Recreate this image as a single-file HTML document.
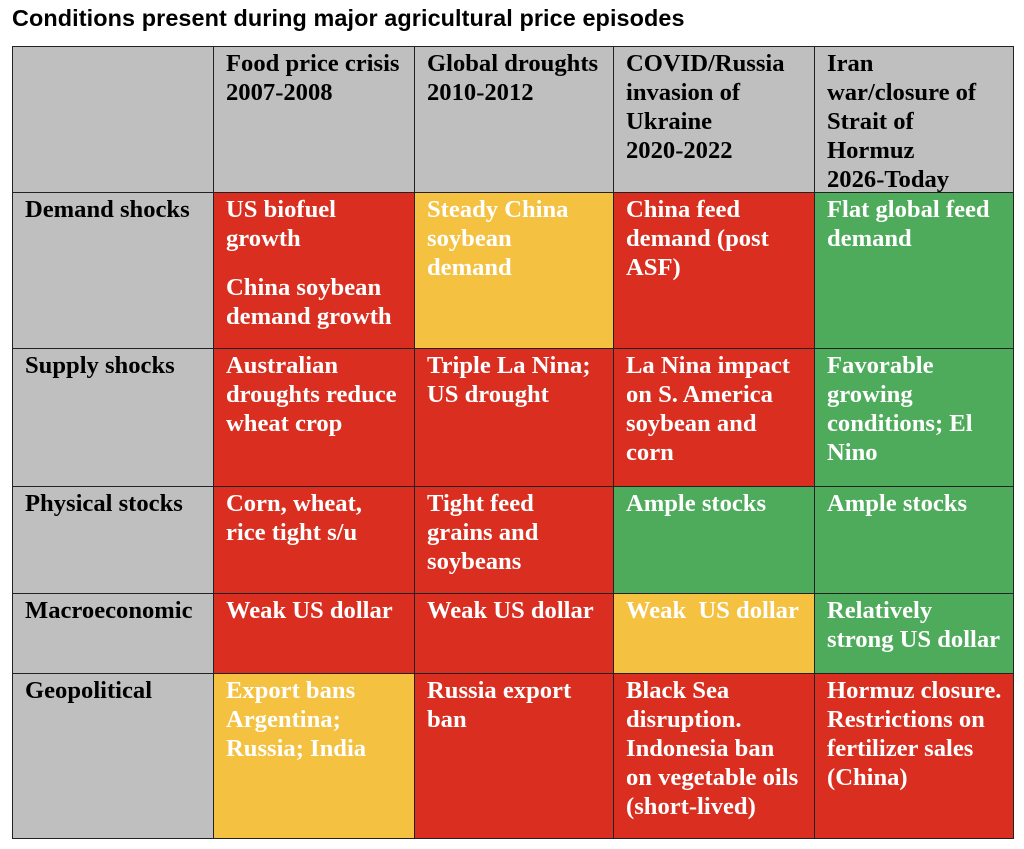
<!DOCTYPE html>
<html><head><style>
body{margin:0;width:1024px;height:849px;background:#fff;position:relative;overflow:hidden}
.t{position:absolute;left:12px;top:5px;font:bold 23.4px "Liberation Sans",sans-serif;color:#000;letter-spacing:0.1px}
.c{position:absolute;box-sizing:border-box;border:1px solid #222;padding:2px 0 0 12px;font:bold 24.6px/29px "Liberation Serif",serif;color:#fff;letter-spacing:0;white-space:nowrap}
.g{background:#bfbfbf;color:#000}.r{background:#d92e20}.y{background:#f4c141}.n{background:#4dab5b}
</style></head><body>
<div class="t">Conditions present during major agricultural price episodes</div>
<div class="c g" style="left:12px;top:46px;width:202px;height:147px"></div>
<div class="c g" style="left:213px;top:46px;width:202px;height:147px">Food price crisis<br>2007-2008</div>
<div class="c g" style="left:414px;top:46px;width:200px;height:147px">Global droughts<br>2010-2012</div>
<div class="c g" style="left:613px;top:46px;width:202px;height:147px">COVID/Russia<br>invasion of<br>Ukraine<br>2020-2022</div>
<div class="c g" style="left:814px;top:46px;width:200px;height:147px">Iran<br>war/closure of<br>Strait of<br>Hormuz<br>2026-Today</div>

<div class="c g" style="left:12px;top:192px;width:202px;height:157px">Demand shocks</div>
<div class="c r" style="left:213px;top:192px;width:202px;height:157px">US biofuel<br>growth<div style="height:20px"></div>China soybean<br>demand growth</div>
<div class="c y" style="left:414px;top:192px;width:200px;height:157px">Steady China<br>soybean<br>demand</div>
<div class="c r" style="left:613px;top:192px;width:202px;height:157px">China feed<br>demand (post<br>ASF)</div>
<div class="c n" style="left:814px;top:192px;width:200px;height:157px">Flat global feed<br>demand</div>

<div class="c g" style="left:12px;top:348px;width:202px;height:139px">Supply shocks</div>
<div class="c r" style="left:213px;top:348px;width:202px;height:139px">Australian<br>droughts reduce<br>wheat crop</div>
<div class="c r" style="left:414px;top:348px;width:200px;height:139px">Triple La Nina;<br>US drought</div>
<div class="c r" style="left:613px;top:348px;width:202px;height:139px">La Nina impact<br>on S. America<br>soybean and<br>corn</div>
<div class="c n" style="left:814px;top:348px;width:200px;height:139px">Favorable<br>growing<br>conditions; El<br>Nino</div>

<div class="c g" style="left:12px;top:486px;width:202px;height:108px">Physical stocks</div>
<div class="c r" style="left:213px;top:486px;width:202px;height:108px">Corn, wheat,<br>rice tight s/u</div>
<div class="c r" style="left:414px;top:486px;width:200px;height:108px">Tight feed<br>grains and<br>soybeans</div>
<div class="c n" style="left:613px;top:486px;width:202px;height:108px">Ample stocks</div>
<div class="c n" style="left:814px;top:486px;width:200px;height:108px">Ample stocks</div>

<div class="c g" style="left:12px;top:593px;width:202px;height:81px">Macroeconomic</div>
<div class="c r" style="left:213px;top:593px;width:202px;height:81px">Weak US dollar</div>
<div class="c r" style="left:414px;top:593px;width:200px;height:81px">Weak US dollar</div>
<div class="c y" style="left:613px;top:593px;width:202px;height:81px">Weak&nbsp; US dollar</div>
<div class="c n" style="left:814px;top:593px;width:200px;height:81px">Relatively<br>strong US dollar</div>

<div class="c g" style="left:12px;top:673px;width:202px;height:166px">Geopolitical</div>
<div class="c y" style="left:213px;top:673px;width:202px;height:166px">Export bans<br>Argentina;<br>Russia; India</div>
<div class="c r" style="left:414px;top:673px;width:200px;height:166px">Russia export<br>ban</div>
<div class="c r" style="left:613px;top:673px;width:202px;height:166px">Black Sea<br>disruption.<br>Indonesia ban<br>on vegetable oils<br>(short-lived)</div>
<div class="c r" style="left:814px;top:673px;width:200px;height:166px">Hormuz closure.<br>Restrictions on<br>fertilizer sales<br>(China)</div>
</body></html>
